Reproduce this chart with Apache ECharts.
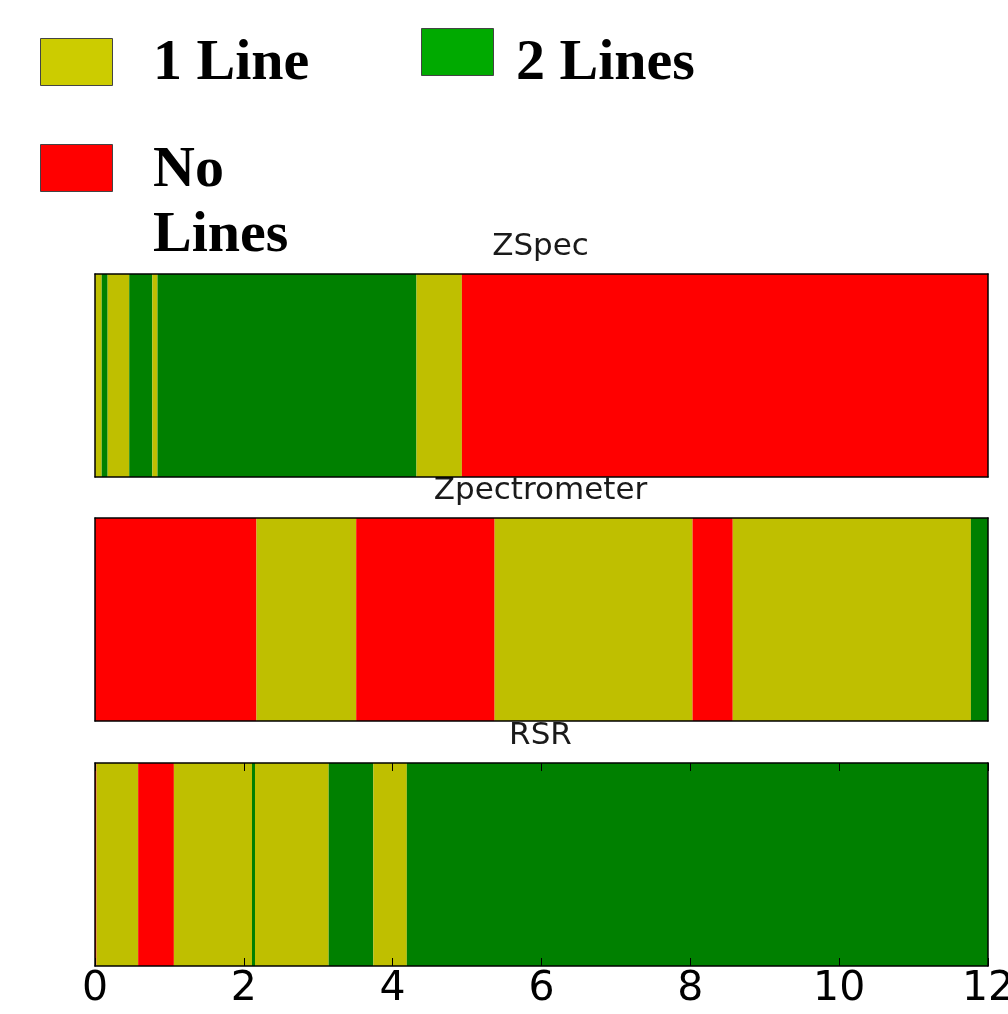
<!DOCTYPE html>
<html>
<head>
<meta charset="utf-8">
<script src="https://cdn.jsdelivr.net/npm/echarts@6/dist/echarts.min.js"></script>
<style>
  html, body { margin: 0; padding: 0; background: #fff; }
  #chart { width: 1008px; height: 1014px; }
</style>
</head>
<body>
<div id="chart"></div>
<script>
// Redshift coverage per instrument: segment edges along z and the line count in each segment
const stateNames = ['No Lines', '1 Line', '2 Lines'];
const stateColors = ['#ff0000', '#bfbf00', '#008000'];
const legendColors = ['#ff0000', '#cccc00', '#00aa00'];

const panelTitles = ['ZSpec', 'Zpectrometer', 'RSR'];

const zspecEdges = [0, 0.09, 0.17, 0.46, 0.77, 0.84, 4.32, 4.93, 12];
const zspecStates = [1, 2, 1, 2, 1, 2, 1, 0];

const zpectrometerEdges = [0, 2.17, 3.51, 5.37, 8.03, 8.57, 11.77, 12];
const zpectrometerStates = [0, 1, 0, 1, 0, 1, 2];

const rsrEdges = [0, 0.02, 0.58, 1.06, 2.11, 2.15, 3.14, 3.74, 4.19, 12];
const rsrStates = [0, 1, 0, 1, 2, 1, 2, 1, 2];

const xTicks = [0, 2, 4, 6, 8, 10, 12];

const panels = [
  { edges: zspecEdges, states: zspecStates },
  { edges: zpectrometerEdges, states: zpectrometerStates },
  { edges: rsrEdges, states: rsrStates }
];

const gridTops = [274, 518, 763];
const gridH = 203;
const gridLeft = 95;
const gridW = 893;

const chart = echarts.init(document.getElementById('chart'), null, { renderer: 'canvas' });

const grids = [], xAxes = [], yAxes = [], series = [], titles = [];

const frameLine = { show: true, onZero: false, lineStyle: { color: '#000', width: 1.5 } };

panels.forEach((p, i) => {
  const isLast = i === panels.length - 1;
  grids.push({
    left: gridLeft, top: gridTops[i], width: gridW, height: gridH,
    containLabel: false, outerBoundsMode: 'none'
  });

  // bottom and top x axes (the top one closes the frame)
  xAxes.push({
    gridIndex: i, type: 'value', min: xTicks[0], max: xTicks[xTicks.length - 1], interval: 2,
    position: 'bottom', z: 10,
    axisLine: frameLine,
    axisTick: { show: isLast, inside: true, length: 8, lineStyle: { color: '#000', width: 1 } },
    axisLabel: {
      show: isLast, margin: 3, color: '#000', fontSize: 41, fontFamily: 'DejaVu Sans'
    },
    splitLine: { show: false },
    name: isLast ? 'z' : '', nameLocation: 'middle', nameGap: 22,
    nameTextStyle: { color: '#000', fontSize: 41, fontFamily: 'DejaVu Sans' }
  });
  xAxes.push({
    gridIndex: i, type: 'value', min: xTicks[0], max: xTicks[xTicks.length - 1], interval: 2,
    position: 'top', z: 10,
    axisLine: frameLine,
    axisTick: { show: isLast, inside: true, length: 8, lineStyle: { color: '#000', width: 1 } },
    axisLabel: { show: false },
    splitLine: { show: false }
  });
  // left and right y axes, frame only
  yAxes.push({
    gridIndex: i, type: 'value', min: 0, max: 1, position: 'left', z: 10,
    axisLine: frameLine, axisTick: { show: false }, axisLabel: { show: false }, splitLine: { show: false }
  });
  yAxes.push({
    gridIndex: i, type: 'value', min: 0, max: 1, position: 'right', z: 10,
    axisLine: frameLine, axisTick: { show: false }, axisLabel: { show: false }, splitLine: { show: false }
  });

  const data = p.states.map((s, k) => [p.edges[k], p.edges[k + 1], s]);
  series.push({
    type: 'custom',
    name: panelTitles[i],
    xAxisIndex: i * 2,
    yAxisIndex: i * 2,
    data: data,
    encode: { x: [0, 1] },
    silent: true,
    renderItem: function (params, api) {
      const a = api.coord([api.value(0), 1]);
      const b = api.coord([api.value(1), 0]);
      return {
        type: 'rect',
        shape: { x: a[0], y: a[1], width: b[0] - a[0], height: b[1] - a[1] },
        style: { fill: stateColors[api.value(2)] }
      };
    }
  });

  titles.push({
    text: panelTitles[i],
    left: gridLeft + gridW / 2 - 1,
    top: gridTops[i] - 43,
    padding: 0,
    textAlign: 'center',
    textStyle: { fontFamily: 'DejaVu Sans', fontWeight: 'normal', fontSize: 31, color: '#1a1a1a' }
  });
});

// Legend: swatches with bold serif labels
const legendFont = 'bold 58px "Liberation Serif", "Times New Roman", serif';
const legendItems = [
  { state: 1, box: [40, 38], text: '1 Line', tx: 153, ty: 32 },
  { state: 2, box: [421, 28], text: '2 Lines', tx: 516, ty: 32 },
  { state: 0, box: [40, 144], text: 'No\nLines', tx: 153, ty: 139 }
];
const graphics = [];
legendItems.forEach(it => {
  graphics.push({
    type: 'rect', left: it.box[0], top: it.box[1],
    shape: { width: 72, height: 47 },
    style: { fill: legendColors[it.state], stroke: '#444', lineWidth: 1 }
  });
  graphics.push({
    type: 'text', left: it.tx, top: it.ty,
    style: { text: it.text, font: legendFont, fill: '#000', lineHeight: 65 }
  });
});

chart.setOption({
  animation: false,
  backgroundColor: '#fff',
  title: titles,
  grid: grids,
  xAxis: xAxes,
  yAxis: yAxes,
  series: series,
  graphic: graphics
});
</script>
</body>
</html>
